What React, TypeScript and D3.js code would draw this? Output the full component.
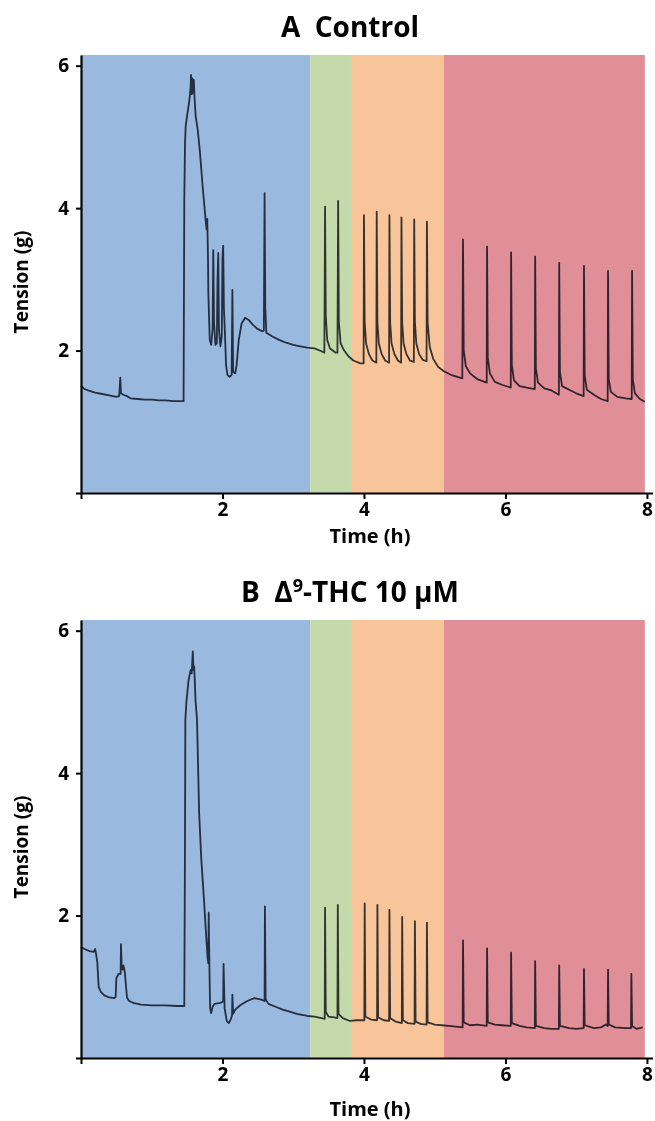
import React, { useEffect, useRef } from "react";
import * as d3 from "d3";

// treatment phases (h) and their fill colours
const phaseStarts = [0, 3.24, 3.83, 5.13];
const phaseEnds = [3.24, 3.83, 5.13, 7.97];
const phaseColors = ["#99b9de", "#c5daaa", "#f8c59b", "#e08f98"];

const xTicks = [0, 2, 4, 6, 8];
const yTicks = [0, 2, 4, 6];

// [time (h), tension (g)]
const traceA: [number, number][] = [
  [0.0, 1.5], [0.05, 1.46], [0.1, 1.44], [0.2, 1.41], [0.3, 1.39], [0.4, 1.37], [0.5, 1.35],
  [0.54, 1.36], [0.555, 1.62], [0.565, 1.4], [0.6, 1.38], [0.65, 1.36], [0.7, 1.33], [0.8, 1.32],
  [0.9, 1.31], [1.0, 1.31], [1.1, 1.3], [1.2, 1.3], [1.3, 1.29], [1.4, 1.29], [1.45, 1.29],
  [1.46, 4.1], [1.47, 4.9], [1.48, 5.15], [1.5, 5.3], [1.53, 5.5], [1.55, 5.7], [1.555, 5.87],
  [1.565, 5.6], [1.575, 5.82], [1.585, 5.62], [1.595, 5.8], [1.605, 5.55], [1.62, 5.3], [1.65, 5.1],
  [1.68, 4.8], [1.72, 4.3], [1.76, 3.85], [1.775, 3.7], [1.785, 3.85], [1.795, 3.3], [1.8, 2.8],
  [1.82, 2.15], [1.84, 2.08], [1.86, 2.3], [1.87, 3.41], [1.88, 2.4], [1.9, 2.08], [1.92, 2.1],
  [1.93, 3.0], [1.94, 3.37], [1.95, 2.3], [1.97, 2.06], [1.99, 2.2], [2.0, 3.3], [2.01, 3.47],
  [2.02, 2.6], [2.04, 2.1], [2.05, 1.8], [2.07, 1.66], [2.1, 1.63], [2.13, 1.66], [2.14, 2.85],
  [2.15, 1.7], [2.18, 1.68], [2.2, 1.8], [2.23, 2.15], [2.27, 2.38], [2.32, 2.46], [2.37, 2.43],
  [2.43, 2.36], [2.5, 2.3], [2.57, 2.27], [2.585, 2.28], [2.595, 4.21], [2.605, 2.6], [2.62, 2.25],
  [2.7, 2.2], [2.8, 2.15], [2.9, 2.11], [3.0, 2.08], [3.1, 2.06], [3.2, 2.04], [3.3, 2.03],
  [3.4, 1.99], [3.44, 1.97], [3.45, 4.02], [3.46, 2.5], [3.48, 2.15], [3.52, 2.03], [3.56, 2.0],
  [3.6, 1.97], [3.625, 1.97], [3.635, 4.1], [3.645, 2.4], [3.67, 2.1], [3.72, 2.0], [3.78, 1.92],
  [3.85, 1.86], [3.95, 1.82], [3.995, 1.82], [4.0, 3.9], [4.01, 2.4], [4.03, 2.1], [4.07, 1.95],
  [4.12, 1.86], [4.175, 1.83], [4.18, 3.95], [4.19, 2.4], [4.21, 2.1], [4.25, 1.95], [4.3, 1.86],
  [4.355, 1.83], [4.36, 3.9], [4.37, 2.4], [4.39, 2.1], [4.43, 1.95], [4.48, 1.86], [4.525, 1.83],
  [4.53, 3.87], [4.54, 2.4], [4.56, 2.1], [4.6, 1.95], [4.65, 1.86], [4.705, 1.84], [4.71, 3.84],
  [4.72, 2.4], [4.74, 2.1], [4.78, 1.95], [4.83, 1.87], [4.885, 1.85], [4.89, 3.81], [4.9, 2.4],
  [4.93, 2.05], [4.98, 1.88], [5.05, 1.77], [5.13, 1.71], [5.25, 1.65], [5.39, 1.61], [5.4, 3.56],
  [5.41, 2.0], [5.44, 1.78], [5.5, 1.68], [5.6, 1.6], [5.735, 1.55], [5.74, 3.46], [5.75, 1.9],
  [5.78, 1.68], [5.85, 1.56], [5.95, 1.52], [6.075, 1.48], [6.08, 3.38], [6.09, 1.8], [6.12, 1.58],
  [6.2, 1.5], [6.3, 1.48], [6.415, 1.46], [6.42, 3.32], [6.43, 1.75], [6.46, 1.55], [6.55, 1.47],
  [6.65, 1.44], [6.755, 1.38], [6.76, 3.23], [6.77, 1.7], [6.8, 1.5], [6.9, 1.45], [7.0, 1.4],
  [7.105, 1.36], [7.11, 3.19], [7.12, 1.65], [7.15, 1.45], [7.25, 1.38], [7.35, 1.32], [7.445, 1.29],
  [7.45, 3.12], [7.46, 1.6], [7.49, 1.42], [7.58, 1.35], [7.7, 1.33], [7.785, 1.32], [7.79, 3.12],
  [7.8, 1.6], [7.83, 1.4], [7.9, 1.32], [7.97, 1.28],
];

const traceB: [number, number][] = [
  [0.0, 1.56], [0.05, 1.53], [0.12, 1.5], [0.18, 1.49], [0.2, 1.53], [0.21, 1.48], [0.23, 1.35],
  [0.25, 1.0], [0.28, 0.93], [0.33, 0.88], [0.4, 0.85], [0.47, 0.84], [0.49, 0.86], [0.5, 1.12],
  [0.53, 1.18], [0.56, 1.18], [0.565, 1.6], [0.575, 1.28], [0.59, 1.24], [0.6, 1.3], [0.62, 1.2],
  [0.65, 0.85], [0.68, 0.8], [0.75, 0.77], [0.85, 0.75], [1.0, 0.74], [1.2, 0.74], [1.35, 0.73],
  [1.46, 0.73], [1.47, 3.0], [1.475, 4.75], [1.49, 5.0], [1.52, 5.3], [1.55, 5.45], [1.565, 5.4],
  [1.58, 5.71], [1.59, 5.45], [1.6, 5.5], [1.62, 5.0], [1.64, 4.75], [1.67, 3.44], [1.7, 2.8],
  [1.74, 2.2], [1.77, 1.7], [1.79, 1.4], [1.8, 1.33], [1.805, 2.04], [1.815, 1.3], [1.825, 0.7],
  [1.84, 0.63], [1.86, 0.72], [1.89, 0.76], [1.95, 0.77], [1.99, 0.78], [2.01, 0.8], [2.015, 1.32],
  [2.03, 0.7], [2.06, 0.52], [2.09, 0.49], [2.12, 0.55], [2.135, 0.6], [2.14, 0.89], [2.15, 0.62],
  [2.18, 0.68], [2.25, 0.74], [2.35, 0.8], [2.45, 0.84], [2.55, 0.82], [2.595, 0.8], [2.6, 2.13],
  [2.61, 0.82], [2.65, 0.76], [2.75, 0.72], [2.85, 0.68], [2.95, 0.65], [3.05, 0.62], [3.2, 0.59],
  [3.3, 0.58], [3.4, 0.56], [3.445, 0.55], [3.45, 2.11], [3.46, 0.65], [3.5, 0.58], [3.58, 0.57],
  [3.625, 0.56], [3.63, 2.15], [3.64, 0.62], [3.7, 0.56], [3.8, 0.52], [3.9, 0.53], [4.005, 0.53],
  [4.01, 2.17], [4.02, 0.58], [4.1, 0.54], [4.185, 0.53], [4.19, 2.15], [4.2, 0.57], [4.28, 0.53],
  [4.355, 0.52], [4.36, 2.08], [4.37, 0.56], [4.45, 0.51], [4.535, 0.49], [4.54, 1.98], [4.55, 0.53],
  [4.62, 0.49], [4.715, 0.48], [4.72, 1.92], [4.73, 0.51], [4.8, 0.48], [4.885, 0.47], [4.89, 1.9],
  [4.9, 0.5], [5.0, 0.47], [5.1, 0.46], [5.2, 0.45], [5.3, 0.44], [5.395, 0.43], [5.4, 1.65],
  [5.41, 0.5], [5.5, 0.46], [5.6, 0.47], [5.735, 0.45], [5.74, 1.54], [5.75, 0.5], [5.85, 0.47],
  [5.95, 0.46], [6.075, 0.45], [6.08, 1.48], [6.09, 0.49], [6.2, 0.45], [6.3, 0.43], [6.415, 0.42],
  [6.42, 1.36], [6.43, 0.45], [6.55, 0.42], [6.65, 0.41], [6.755, 0.41], [6.76, 1.3], [6.77, 0.45],
  [6.9, 0.42], [7.0, 0.41], [7.105, 0.42], [7.11, 1.25], [7.12, 0.46], [7.25, 0.42], [7.35, 0.43],
  [7.42, 0.47], [7.445, 0.45], [7.45, 1.24], [7.46, 0.47], [7.55, 0.43], [7.7, 0.42], [7.775, 0.42],
  [7.78, 1.18], [7.79, 0.45], [7.85, 0.41], [7.94, 0.43],
];

const FONT = "'Open Sans', 'DejaVu Sans', sans-serif";

const WIDTH = 655;
const HEIGHT = 1121;

export default function App() {
  const ref = useRef<SVGSVGElement>(null);

  useEffect(() => {
    const svg = d3.select(ref.current);
    svg.selectAll("*").remove();

    const x = d3.scaleLinear().domain([0, 8.08]).range([81, 652.6]);

    const panels = [
      { id: "A", trace: traceA, offset: 0, timeY: 543 },
      { id: "B", trace: traceB, offset: 565, timeY: 1116 },
    ];

    panels.forEach((p) => {
      const y = d3.scaleLinear().domain([0, 6.15]).range([493 + p.offset, 55 + p.offset]);
      const g = svg.append("g");

      // phase backgrounds
      g.selectAll("rect.phase")
        .data(phaseStarts)
        .enter().append("rect")
          .attr("class", "phase")
          .attr("x", (d) => x(d))
          .attr("y", y(6.15))
          .attr("width", (d, i) => x(phaseEnds[i]) - x(d))
          .attr("height", y(0) - y(6.15))
          .attr("fill", (d, i) => phaseColors[i]);

      const line = d3.line<[number, number]>()
        .x((d) => x(d[0]))
        .y((d) => y(d[1]));

      g.append("path")
        .datum(p.trace)
        .attr("d", line)
        .attr("fill", "none")
        .attr("stroke", "#3a3f4a")
        .attr("stroke-width", 1.8)
        .attr("stroke-linejoin", "round")
        .style("mix-blend-mode", "multiply");

      const xAxis = g.append("g")
        .attr("transform", "translate(0," + y(0) + ")")
        .call(
          d3.axisBottom(x)
            .tickValues(xTicks)
            .tickSize(6)
            .tickSizeOuter(0)
            .tickPadding(4)
            .tickFormat((d) => (d === 0 ? "" : String(d)))
        );

      const yAxis = g.append("g")
        .attr("transform", "translate(" + x(0) + ",0)")
        .call(
          d3.axisLeft(y)
            .tickValues(yTicks)
            .tickSize(5)
            .tickSizeOuter(0)
            .tickPadding(7)
            .tickFormat((d) => (d === 0 ? "" : String(d)))
        );

      [xAxis, yAxis].forEach((a) => {
        a.select(".domain").attr("stroke", "#000").attr("stroke-width", 2.2);
        a.selectAll(".tick line").attr("stroke", "#000").attr("stroke-width", 2);
        a.selectAll(".tick text")
          .attr("fill", "#000")
          .style("font-family", FONT)
          .style("font-weight", "bold")
          .style("font-size", "19px");
      });

      // axis titles
      g.append("text")
        .attr("transform", "translate(28," + (282 + p.offset) + ") rotate(-90)")
        .attr("text-anchor", "middle")
        .style("font-family", FONT)
        .style("font-weight", "bold")
        .style("font-size", "19px")
        .text("Tension (g)");

      g.append("text")
        .attr("x", 370)
        .attr("y", p.timeY)
        .attr("text-anchor", "middle")
        .style("font-family", FONT)
        .style("font-weight", "bold")
        .style("font-size", "20px")
        .text("Time (h)");

      // panel title
      const title = g.append("text")
        .attr("x", 350)
        .attr("y", 36.7 + p.offset)
        .attr("text-anchor", "middle")
        .style("font-family", FONT)
        .style("font-weight", "bold")
        .style("font-size", "28px")
        .style("white-space", "pre");

      if (p.id === "A") {
        title.text("A  Control");
      } else {
        title.append("tspan").text("B  \u0394");
        title.append("tspan").attr("dy", -10).style("font-size", "18px").text("9");
        title.append("tspan").attr("dy", 10).text("-THC 10 \u00b5M");
      }
    });
  }, []);

  return (
    <svg
      ref={ref}
      width={WIDTH}
      height={HEIGHT}
      style={{ position: "absolute", left: 0, top: 0, display: "block", background: "#fff" }}
    />
  );
}
